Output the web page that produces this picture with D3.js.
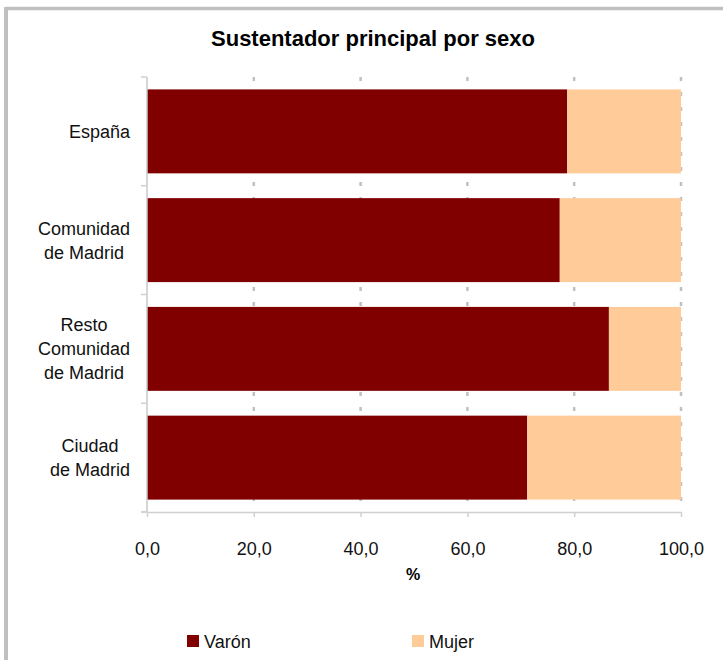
<!DOCTYPE html>
<html>
<head>
<meta charset="utf-8">
<script src="https://cdn.jsdelivr.net/npm/d3@7"></script>
<style>
  html, body { margin: 0; padding: 0; background: #fff; }
  svg { display: block; font-family: "Liberation Sans", Arial, sans-serif; }
</style>
</head>
<body>
<svg id="chart" width="723" height="660"></svg>
<script>
// ---- Data ----
const categories = [
  ["España"],
  ["Comunidad", "de Madrid"],
  ["Resto", "Comunidad", "de Madrid"],
  ["Ciudad", "de Madrid"]
];
const categoryKeys = ["España", "Comunidad de Madrid", "Resto Comunidad de Madrid", "Ciudad de Madrid"];
const seriesNames = ["Varón", "Mujer"];
const varonValues = [78.7, 77.3, 86.5, 71.2];
const mujerValues = [21.3, 22.7, 13.5, 28.8];
const tickValues = [0, 20, 40, 60, 80, 100];
const tickLabels = ["0,0", "20,0", "40,0", "60,0", "80,0", "100,0"];
const colors = ["#800000", "#FFCC99"];

// ---- Layout ----
const svg = d3.select("#chart");
const W = 723, H = 660;
const plot = { left: 147, right: 681, top: 77, bottom: 512 };

// Frame (partial gray border)
svg.append("rect").attr("x", 0).attr("y", 0).attr("width", W).attr("height", H).attr("fill", "#fff");
svg.append("line").attr("x1", 6).attr("x2", W).attr("y1", 8.5).attr("y2", 8.5)
  .attr("stroke", "#c0c0c0").attr("stroke-width", 3.5);
svg.append("line").attr("x1", 6).attr("x2", 6).attr("y1", 7).attr("y2", H)
  .attr("stroke", "#c0c0c0").attr("stroke-width", 4);

// Title
svg.append("text").attr("x", 373).attr("y", 46).attr("text-anchor", "middle")
  .attr("font-size", 22).attr("font-weight", "bold").attr("fill", "#000")
  .text("Sustentador principal por sexo");

// Scales
const x = d3.scaleLinear().domain([0, 100]).range([plot.left, plot.right]);
const y = d3.scaleBand().domain(categoryKeys).range([plot.top, plot.bottom]).paddingInner(0.228).paddingOuter(0.114);
const yBands = d3.scaleBand().domain(categoryKeys).range([plot.top, plot.bottom]);

// Gridlines
svg.append("g").selectAll("line").data(tickValues.slice(1)).join("line")
  .attr("x1", d => x(d)).attr("x2", d => x(d))
  .attr("y1", plot.top).attr("y2", plot.bottom)
  .attr("stroke", "#c0c0c0").attr("stroke-width", 2.5).attr("stroke-dasharray", "4,11");

// Stacked bars
const rows = categoryKeys.map((k, i) => ({ key: k, "Varón": varonValues[i], "Mujer": mujerValues[i] }));
const stack = d3.stack().keys(seriesNames)(rows);
svg.append("g").selectAll("g").data(stack).join("g")
  .attr("fill", (d, i) => colors[i])
  .selectAll("rect").data(d => d).join("rect")
  .attr("x", d => x(d[0]))
  .attr("width", d => x(d[1]) - x(d[0]))
  .attr("y", d => y(d.data.key))
  .attr("height", y.bandwidth());

// X axis
const xAxis = d3.axisBottom(x).tickValues(tickValues).tickFormat((d, i) => tickLabels[i]).tickSize(5).tickSizeOuter(0);
const gx = svg.append("g").attr("transform", `translate(0,${plot.bottom})`).call(xAxis);
gx.select(".domain").attr("stroke", "#d0d0d0").attr("stroke-width", 1.5);
gx.selectAll(".tick line").attr("stroke", "#d0d0d0").attr("stroke-width", 1.5);
gx.selectAll(".tick text").attr("font-size", 18).attr("fill", "#111").attr("dy", 0).attr("y", 43)
  .attr("font-family", "Liberation Sans, Arial, sans-serif");
svg.append("line").attr("x1", plot.left - 6).attr("x2", plot.left).attr("y1", plot.bottom).attr("y2", plot.bottom)
  .attr("stroke", "#d0d0d0").attr("stroke-width", 1.5);

// Y axis line with category boundary ticks
svg.append("line").attr("x1", plot.left).attr("x2", plot.left).attr("y1", plot.top).attr("y2", plot.bottom)
  .attr("stroke", "#c8c8c8").attr("stroke-width", 1.5);
const boundaries = categoryKeys.map(k => yBands(k)).concat([plot.bottom]);
svg.append("g").selectAll("line").data(boundaries).join("line")
  .attr("x1", plot.left - 6).attr("x2", plot.left)
  .attr("y1", d => d).attr("y2", d => d)
  .attr("stroke", "#d0d0d0").attr("stroke-width", 1.5);

// Category labels (multi-line, centered block, right-aligned to axis)
const labelRight = 130;
const lineH = 24;
const measurer = svg.append("text").attr("font-size", 18).attr("visibility", "hidden");
categories.forEach((lines, i) => {
  const widths = lines.map(l => { measurer.text(l); return measurer.node().getComputedTextLength(); });
  const blockW = d3.max(widths);
  const cx = labelRight - blockW / 2;
  const cy = yBands(categoryKeys[i]) + yBands.bandwidth() / 2;
  const t = svg.append("text").attr("text-anchor", "middle").attr("font-size", 18).attr("fill", "#111");
  lines.forEach((l, j) => {
    t.append("tspan").attr("x", cx)
      .attr("y", cy + (j - (lines.length - 1) / 2) * lineH + 6.5)
      .text(l);
  });
});
measurer.remove();

// X axis title
svg.append("text").attr("x", 413).attr("y", 580).attr("text-anchor", "middle")
  .attr("font-size", 16).attr("font-weight", "bold").attr("fill", "#000").text("%");

// Legend
const legendX = [187, 412];
const lg = svg.append("g").selectAll("g").data(seriesNames).join("g")
  .attr("transform", (d, i) => `translate(${legendX[i]},635)`);
lg.append("rect").attr("width", 12).attr("height", 12).attr("fill", (d, i) => colors[i]);
lg.append("text").attr("x", 17).attr("y", 12.5).attr("font-size", 18).attr("fill", "#111").text(d => d);
</script>
</body>
</html>
